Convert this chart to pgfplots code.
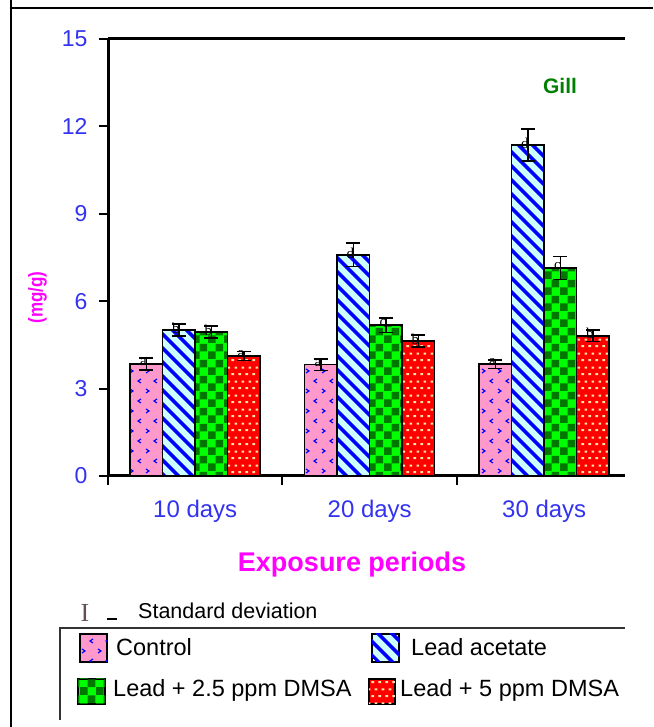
\documentclass[border=0pt]{standalone}
\usepackage{pgfplots}
\usepackage{pgfplotstable}
\pgfplotsset{compat=1.18}
\usepackage{fontspec}
\setmainfont{Liberation Sans}
\newfontfamily\seriffont{Liberation Serif}
\usetikzlibrary{patterns,patterns.meta}

\definecolor{tickblue}{RGB}{50,50,240}
\definecolor{magentac}{RGB}{255,0,255}
\definecolor{gillgreen}{RGB}{0,128,0}
\definecolor{pinkc}{RGB}{255,153,204}
\definecolor{cyanc}{RGB}{204,255,255}
\definecolor{greenc}{RGB}{0,255,0}
\definecolor{dgreen}{RGB}{0,120,0}
\definecolor{redc}{RGB}{255,0,0}
\definecolor{paley}{RGB}{255,228,170}
\definecolor{sdgray}{RGB}{100,80,80}

% chevrons for Control
\pgfdeclarepatternformonly{mychev}{\pgfpoint{-1pt}{-1pt}}{\pgfpoint{17pt}{21pt}}{\pgfpoint{16pt}{20pt}}{%
  \pgfsetlinewidth{1.2pt}%
  \pgfpathmoveto{\pgfpoint{2pt}{18pt}}\pgfpathlineto{\pgfpoint{5pt}{16pt}}\pgfpathlineto{\pgfpoint{2pt}{14pt}}%
  \pgfpathmoveto{\pgfpoint{13pt}{8pt}}\pgfpathlineto{\pgfpoint{10pt}{6pt}}\pgfpathlineto{\pgfpoint{13pt}{4pt}}%
  \pgfusepath{stroke}}
% checkerboard
\pgfdeclarepatternformonly{mycheck}{\pgfpointorigin}{\pgfpoint{16pt}{16pt}}{\pgfpoint{16pt}{16pt}}{%
  \pgfpathrectangle{\pgfpointorigin}{\pgfpoint{8pt}{8pt}}%
  \pgfpathrectangle{\pgfpoint{8pt}{8pt}}{\pgfpoint{8pt}{8pt}}%
  \pgfusepath{fill}}
% bricks
\pgfdeclarepatternformonly{mybricks}{\pgfpointorigin}{\pgfpoint{7pt}{14pt}}{\pgfpoint{7pt}{14pt}}{%
  \pgfpathrectangle{\pgfpoint{0.5pt}{2pt}}{\pgfpoint{3pt}{2pt}}%
  \pgfpathrectangle{\pgfpoint{4pt}{9pt}}{\pgfpoint{3pt}{2pt}}%
  \pgfusepath{fill}}

\tikzset{
  ctrlstyle/.style={fill=pinkc, postaction={pattern=mychev, pattern color=blue}},
  lastyle/.style={fill=cyanc, postaction={pattern={Lines[angle=-45,distance=10.5pt,line width=4pt]}, pattern color=blue}},
  g25style/.style={fill=greenc, postaction={pattern=mycheck, pattern color=dgreen}},
  g5style/.style={fill=redc, postaction={pattern=mybricks, pattern color=paley}},
  legtext/.style={anchor=west, font=\fontsize{23.5}{25}\selectfont, inner sep=0pt},
}

\pgfplotstableread{
x y e l
0.5 3.84 0.20 a
1.5 3.82 0.20 a
2.5 3.84 0.15 a
}\ctrl
\pgfplotstableread{
x y e l
0.5 5.01 0.20 b
1.5 7.59 0.40 d
2.5 11.36 0.55 d
}\lead
\pgfplotstableread{
x y e l
0.5 4.94 0.20 b
1.5 5.18 0.25 c
2.5 7.14 0.40 c
}\dmsaA
\pgfplotstableread{
x y e l
0.5 4.12 0.15 a
1.5 4.63 0.20 b
2.5 4.81 0.20 b
}\dmsaB

\begin{document}
\begin{tikzpicture}[x=1pt,y=1pt]
\path[use as bounding box] (0,0) rectangle (653,727);
% outer frame (cropped at right and bottom)
\draw[line width=2.5pt] (11,727) -- (11,719) -- (653,719);
\draw[line width=2.5pt] (11,719) -- (11,0);

\begin{axis}[
  at={(108pt,251pt)}, anchor=south west,
  scale only axis, width=517pt, height=437pt,
  xmin=0, xmax=2.963, ymin=0, ymax=15,
  axis x line*=bottom, axis y line*=left,
  axis line style={line width=3pt, -},
  ytick={0,3,6,9,12,15},
  yticklabel style={font=\fontsize{23}{25}\selectfont, text=tickblue, xshift=-8pt},
  /pgf/number format/assume math mode=true,
  ytick style={line width=2pt, black},
  tick align=outside,
  major tick length=9pt,
  xtick={0,1,2},
  xticklabels={},
  xtick style={line width=2pt, black},
  extra x ticks={0.5,1.5,2.5},
  extra x tick labels={10 days,20 days,30 days},
  extra x tick style={major tick length=0pt, tick label style={font=\fontsize{24}{26}\selectfont, text=tickblue, yshift=-21pt}},
  ybar=0pt, bar width=32.5pt,
  point meta=explicit symbolic,
  nodes near coords,
  every node near coord/.append style={anchor=center, font=\seriffont\fontsize{15}{15}\selectfont, text=black, xshift=-3pt, yshift=2pt},
  error bars/y dir=both, error bars/y explicit,
  error bars/error bar style={line width=1.6pt, black},
  error bars/error mark options={line width=1.6pt, black, mark size=7pt, rotate=90},
  clip=false,
]
\addplot[draw=black, line width=1.5pt, ctrlstyle] table[x=x, y=y, y error=e, meta=l] {\ctrl};
\addplot[draw=black, line width=1.5pt, lastyle] table[x=x, y=y, y error=e, meta=l] {\lead};
\addplot[draw=black, line width=1.5pt, g25style] table[x=x, y=y, y error=e, meta=l] {\dmsaA};
\addplot[draw=black, line width=1.5pt, g5style] table[x=x, y=y, y error=e, meta=l] {\dmsaB};
\end{axis}
% top frame line of the plot area
\draw[line width=3pt] (108,688) -- (625,688);

\node[text=gillgreen, font=\bfseries\fontsize{21}{24}\selectfont] at (560,641) {Gill};
\node[text=magentac, font=\bfseries\fontsize{20}{22}\selectfont, rotate=90] at (37.5,429.5) {\scalebox{0.85}[1]{(mg/g)}};
\node[text=magentac, font=\bfseries\fontsize{27}{29}\selectfont] at (352,162) {Exposure periods};

% standard deviation note
\node[text=sdgray, font=\seriffont\fontsize{26}{28}\selectfont] at (85,114) {I};
\draw[line width=2pt] (107,108) -- (117,108);
\node[anchor=west, font=\fontsize{21.5}{23}\selectfont, inner sep=0pt] at (138,116) {Standard deviation};

% legend box
\draw[line width=2pt, black!80] (60,7) -- (60,99) -- (625,99);
\filldraw[draw=black, line width=1.3pt, ctrlstyle] (80,65) rectangle (107,93);
\node[legtext] at (116,80) {Control};
\filldraw[draw=black, line width=1.3pt, lastyle] (372,65) rectangle (399,93);
\node[legtext] at (411,80) {Lead acetate};
\filldraw[draw=black, line width=1.3pt, g25style] (78,23) rectangle (105,48);
\node[legtext] at (113,37) {Lead + 2.5 ppm DMSA};
\filldraw[draw=black, line width=1.3pt, g5style] (369,23) rectangle (395,48);
\node[legtext] at (400,37) {Lead + 5 ppm DMSA};
\end{tikzpicture}
\end{document}
